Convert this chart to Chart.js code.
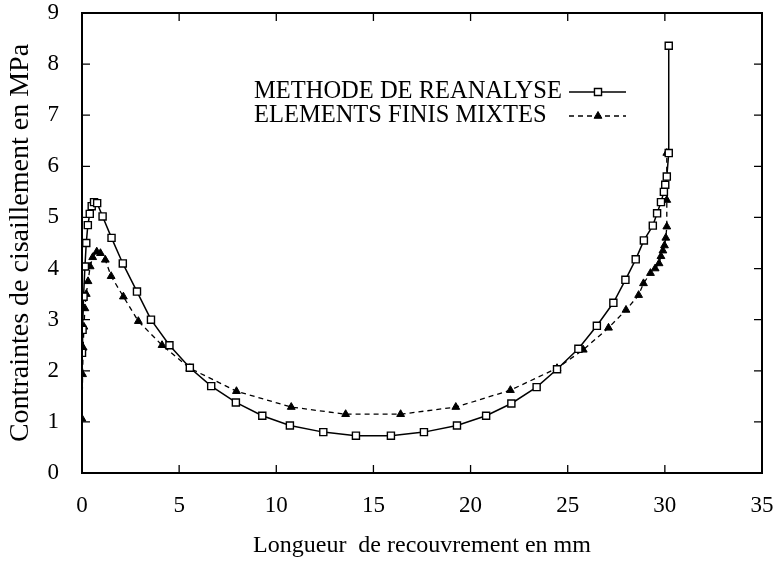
<!DOCTYPE html>
<html>
<head>
<meta charset="utf-8">
<script src="https://cdn.jsdelivr.net/npm/chart.js@4.4.0/dist/chart.umd.min.js"></script>
<style>
html, body { margin: 0; padding: 0; background: #fff; }
</style>
</head>
<body>
<canvas id="chart" width="778" height="564"></canvas>
<script>
// Courbe 1 : methode de reanalyse (carres)
const reanalyseX = [0, 0.03, 0.08, 0.15, 0.22, 0.3, 0.4, 0.5, 0.62, 0.78, 1.06, 1.52, 2.1, 2.83, 3.55, 4.5, 5.55, 6.65, 7.92, 9.28, 10.7, 12.42, 14.1, 15.9, 17.6, 19.3, 20.8, 22.1, 23.4, 24.45, 25.55, 26.5, 27.35, 27.97, 28.5, 28.92, 29.38, 29.6, 29.8, 29.95, 30.02, 30.1, 30.2, 30.2];
const reanalyseY = [2.35, 2.8, 3.45, 4.04, 4.5, 4.85, 5.07, 5.22, 5.3, 5.28, 5.02, 4.6, 4.1, 3.55, 3.0, 2.5, 2.06, 1.7, 1.38, 1.12, 0.93, 0.8, 0.73, 0.73, 0.8, 0.93, 1.12, 1.36, 1.68, 2.03, 2.43, 2.88, 3.33, 3.78, 4.18, 4.55, 4.84, 5.08, 5.3, 5.5, 5.64, 5.8, 6.26, 8.36];

// Courbe 2 : elements finis mixtes (triangles)
const mixtesX = [0, 0.03, 0.06, 0.1, 0.15, 0.22, 0.31, 0.42, 0.55, 0.76, 0.95, 1.2, 1.5, 2.13, 2.9, 4.12, 5.55, 7.95, 10.77, 13.57, 16.4, 19.24, 22.05, 24.45, 25.8, 27.1, 28.0, 28.65, 28.9, 29.26, 29.5, 29.7, 29.8, 29.9, 29.98, 30.05, 30.1, 30.1, 30.1];
const mixtesY = [1.06, 1.93, 2.45, 2.86, 3.22, 3.5, 3.75, 4.04, 4.22, 4.33, 4.3, 4.17, 3.85, 3.45, 2.97, 2.5, 2.05, 1.6, 1.29, 1.15, 1.15, 1.29, 1.62, 2.05, 2.41, 2.84, 3.19, 3.48, 3.71, 3.91, 4.0, 4.1, 4.24, 4.35, 4.45, 4.6, 4.82, 5.34, 6.26];

const xTicks = [0, 5, 10, 15, 20, 25, 30, 35];
const yTicks = [0, 1, 2, 3, 4, 5, 6, 7, 8, 9];
const legendLabels = ['METHODE DE REANALYSE', 'ELEMENTS FINIS MIXTES'];

const serif = "'Liberation Serif', 'DejaVu Serif', serif";

const xMin = xTicks[0], xMax = xTicks[xTicks.length - 1];
const yMin = yTicks[0], yMax = yTicks[yTicks.length - 1];

function toPoints(xs, ys) {
    return xs.map((x, i) => ({ x: x, y: ys[i] }));
}

// cadre du graphe, trace comme une serie fermee sur les bornes des axes
function cadrePoints() {
    return [
        { x: xMin, y: yMin }, { x: xMax, y: yMin },
        { x: xMax, y: yMax }, { x: xMin, y: yMax }, { x: xMin, y: yMin }
    ];
}

// graduations interieures (~8 px) : segments separes par des points vides
function graduationPoints() {
    const dx = (xMax - xMin) * 8 / 680;
    const dy = (yMax - yMin) * 8 / 460;
    const pts = [];
    xTicks.forEach(v => {
        pts.push({ x: v, y: yMin }, { x: v, y: yMin + dy }, { x: v, y: null });
        pts.push({ x: v, y: yMax }, { x: v, y: yMax - dy }, { x: v, y: null });
    });
    yTicks.forEach(v => {
        pts.push({ x: xMin, y: v }, { x: xMin + dx, y: v }, { x: xMin, y: null });
        pts.push({ x: xMax, y: v }, { x: xMax - dx, y: v }, { x: xMax, y: null });
    });
    return pts;
}

/**
 * Legende a la gnuplot : texte puis echantillon de trait a droite
 */
const keyPlugin = {
    id: 'cleGnuplot',
    afterDraw(chart) {
        const g = chart.ctx;
        g.save();
        g.font = '24.5px ' + serif;
        g.textBaseline = 'middle';
        g.textAlign = 'left';
        const rows = [92, 116];
        legendLabels.forEach((label, i) => {
            const ds = chart.data.datasets[i];
            const y = rows[i];
            g.fillStyle = '#000';
            g.fillText(label, 254, y);
            g.strokeStyle = '#000';
            g.lineWidth = ds.borderWidth;
            g.setLineDash(ds.borderDash || []);
            g.beginPath();
            g.moveTo(569, y);
            g.lineTo(626, y);
            g.stroke();
            g.setLineDash([]);
            g.fillStyle = ds.pointBackgroundColor;
            g.strokeStyle = ds.pointBorderColor;
            g.lineWidth = ds.pointBorderWidth;
            Chart.helpers.drawPoint(g, {
                pointStyle: ds.pointStyle,
                radius: ds.pointRadius,
                borderWidth: ds.pointBorderWidth
            }, 598, y);
        });
        g.restore();
    }
};

/**
 * Cadre redessine par-dessus, a partir des bornes des echelles
 */
const framePlugin = {
    id: 'cadre',
    afterDraw(chart) {
        const g = chart.ctx;
        const sx = chart.scales.x;
        const sy = chart.scales.y;
        g.save();
        g.strokeStyle = '#000';
        g.lineWidth = 2;
        g.strokeRect(sx.left, sy.top, sx.right - sx.left, sy.bottom - sy.top);
        g.restore();
    }
};

new Chart(document.getElementById('chart'), {
    type: 'scatter',
    data: {
        datasets: [{
            data: toPoints(reanalyseX, reanalyseY),
            showLine: true,
            borderColor: '#000',
            borderWidth: 1.5,
            pointStyle: 'rect',
            pointRadius: 5,
            pointBorderWidth: 1.4,
            pointBackgroundColor: '#fff',
            pointBorderColor: '#000'
        }, {
            data: toPoints(mixtesX, mixtesY),
            showLine: true,
            borderColor: '#000',
            borderWidth: 1.3,
            borderDash: [5, 4],
            pointStyle: 'triangle',
            pointRadius: 4.5,
            pointBorderWidth: 1,
            pointBackgroundColor: '#000',
            pointBorderColor: '#000'
        }, {
            data: graduationPoints(),
            showLine: true,
            spanGaps: false,
            clip: false,
            borderColor: '#000',
            borderWidth: 1.3,
            pointRadius: 0
        }, {
            data: cadrePoints(),
            showLine: true,
            clip: false,
            borderColor: '#000',
            borderWidth: 1.8,
            pointRadius: 0
        }]
    },
    options: {
        responsive: false,
        animation: false,
        layout: { padding: { left: 4, right: 16, top: 13, bottom: 4 } },
        plugins: {
            legend: { display: false },
            tooltip: { enabled: false }
        },
        scales: {
            x: {
                type: 'linear',
                min: xMin,
                max: xMax,
                afterFit: s => { s.height = 87; s.paddingLeft = 0; s.paddingRight = 0; },
                afterBuildTicks: s => { s.ticks = xTicks.map(v => ({ value: v })); },
                grid: { display: false },
                border: { display: false },
                ticks: { color: '#000', padding: 11, font: { family: serif, size: 23 } },
                title: { display: true, text: 'Longueur  de recouvrement en mm', color: '#000', padding: 0, font: { family: serif, size: 24 } }
            },
            y: {
                type: 'linear',
                min: yMin,
                max: yMax,
                afterFit: s => { s.width = 78; s.paddingTop = 0; s.paddingBottom = 0; },
                afterBuildTicks: s => { s.ticks = yTicks.map(v => ({ value: v })); },
                grid: { display: false },
                border: { display: false },
                ticks: { color: '#000', padding: 15, font: { family: serif, size: 23 } },
                title: { display: true, text: 'Contraintes de cisaillement en MPa', color: '#000', padding: 0, font: { family: serif, size: 28 } }
            }
        }
    },
    plugins: [keyPlugin, framePlugin]
});
</script>
</body>
</html>
